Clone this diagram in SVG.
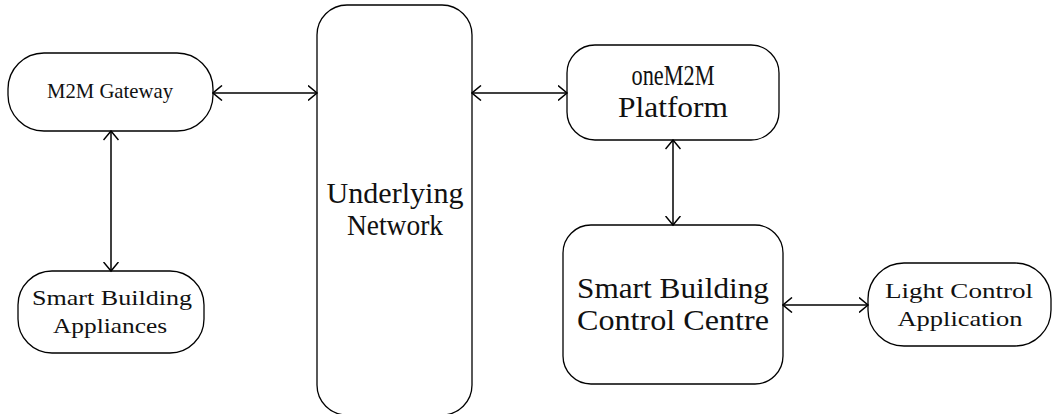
<svg xmlns="http://www.w3.org/2000/svg" width="1053" height="414" viewBox="0 0 1053 414">
<style>
.box{fill:#fff;stroke:#000;stroke-width:1.3}
.t{font-family:"Liberation Serif","DejaVu Serif",serif;fill:#111;text-anchor:middle}
.s{font-size:22px}
.b{font-size:29px}
.c{fill:none;stroke:#000;stroke-width:1.5;marker-start:url(#ah);marker-end:url(#ah)}
</style>
<defs>
<marker id="ah" viewBox="0 0 11 16" refX="9.5" refY="8" markerWidth="11" markerHeight="16" markerUnits="userSpaceOnUse" orient="auto-start-reverse">
<path d="M0.5,0.5 L9.5,8 L0.5,15.5" fill="none" stroke="#000" stroke-width="1.5"/>
</marker>
</defs>
<rect width="1053" height="414" fill="#fff"/>
<g id="gateway">
<rect class="box" x="8" y="53" width="205" height="78" rx="36"/>
<text class="t s" x="110" y="98" textLength="126" lengthAdjust="spacingAndGlyphs">M2M Gateway</text>
</g>
<g id="appliances">
<rect class="box" x="18" y="271" width="186" height="82" rx="34"/>
<text class="t s" x="112" y="305" textLength="160" lengthAdjust="spacingAndGlyphs">Smart Building</text>
<text class="t s" x="110" y="333" textLength="114" lengthAdjust="spacingAndGlyphs">Appliances</text>
</g>
<g id="network">
<rect class="box" x="317" y="5" width="155" height="410" rx="30"/>
<text class="t b" x="395" y="203" textLength="137" lengthAdjust="spacingAndGlyphs">Underlying</text>
<text class="t b" x="395" y="235" textLength="96" lengthAdjust="spacingAndGlyphs">Network</text>
</g>
<g id="platform">
<rect class="box" x="567" y="45" width="212" height="95" rx="28"/>
<text class="t b" x="673" y="85" textLength="83" lengthAdjust="spacingAndGlyphs">oneM2M</text>
<text class="t b" x="673" y="117" textLength="110" lengthAdjust="spacingAndGlyphs">Platform</text>
</g>
<g id="control-centre">
<rect class="box" x="563" y="225" width="220" height="159" rx="28"/>
<text class="t b" x="673" y="298" textLength="192" lengthAdjust="spacingAndGlyphs">Smart Building</text>
<text class="t b" x="673" y="330" textLength="192" lengthAdjust="spacingAndGlyphs">Control Centre</text>
</g>
<g id="light-control">
<rect class="box" x="868" y="263" width="183" height="83" rx="36"/>
<text class="t s" x="959" y="298" textLength="148" lengthAdjust="spacingAndGlyphs">Light Control</text>
<text class="t s" x="960" y="326" textLength="125" lengthAdjust="spacingAndGlyphs">Application</text>
</g>
<g id="connectors">
<line class="c" x1="213" y1="93" x2="317" y2="93"/>
<line class="c" x1="472" y1="93" x2="567" y2="93"/>
<line class="c" x1="111" y1="131" x2="111" y2="271"/>
<line class="c" x1="673" y1="140" x2="673" y2="225"/>
<line class="c" x1="783" y1="305" x2="868" y2="305"/>
</g>
</svg>
